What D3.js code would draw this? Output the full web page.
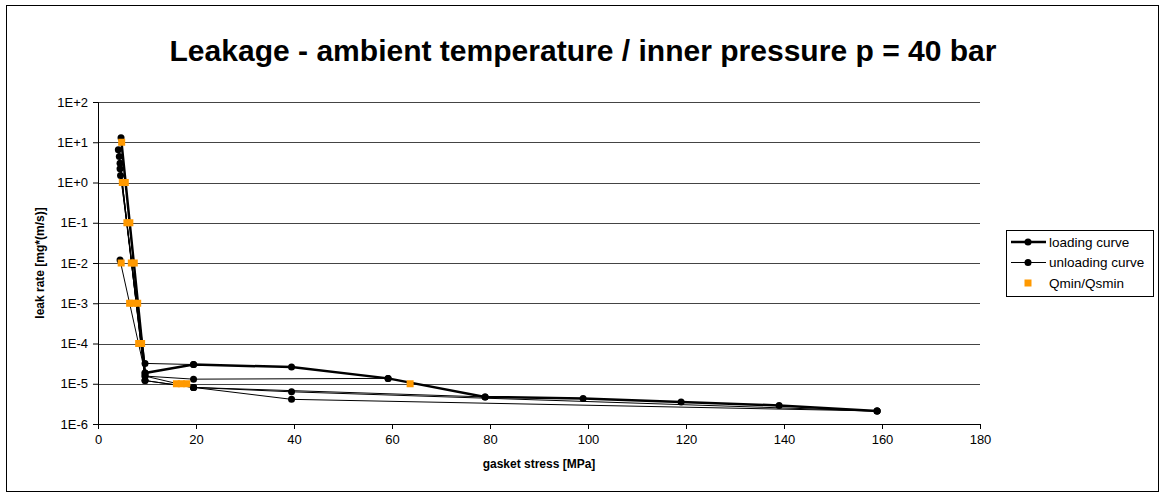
<!DOCTYPE html>
<html>
<head>
<meta charset="utf-8">
<script src="https://cdn.jsdelivr.net/npm/d3@7"></script>
<style>
  body { margin: 0; background: #fff; }
  text { font-family: Arial, "Liberation Sans", sans-serif; fill: #000; }
</style>
</head>
<body>
<div id="chart"></div>
<script>
// chart size = browser window
var svgWidth = 1166;
var svgHeight = 497;

// plot area edges
var margin = { top: 102, right: 186, bottom: 73, left: 98 };
var width = svgWidth - margin.left - margin.right;
var height = svgHeight - margin.top - margin.bottom;

// gasket stress [MPa] / leak rate pairs
var loadingCurve = [
  [4.7, 12.9], [9.6, 1.85e-5], [19.5, 3.0e-5], [39.5, 2.6e-5], [59.2, 1.36e-5],
  [79, 4.7e-6], [99, 4.3e-6], [119, 3.5e-6], [139, 2.9e-6], [159, 2.1e-6]
];

var unload10 = [[9.6, 1.85e-5], [4.5, 0.0118]];
var unload20 = [[19.5, 3.0e-5], [9.6, 3.2e-5], [4.6, 1.5]];
var unload60 = [[59.2, 1.36e-5], [19.5, 1.3e-5], [9.6, 1.55e-5], [4.5, 2.2]];
var unload160a = [[159, 2.1e-6], [39.5, 6.3e-6], [19.5, 8.1e-6], [9.6, 1.2e-5], [4.5, 3.0]];
var unload160b = [[159, 2.1e-6], [39.5, 4.1e-6], [19.5, 8.1e-6], [9.6, 1.2e-5], [4.35, 4.4]];
var unload80 = [[79, 4.7e-6], [19.5, 8.1e-6], [9.6, 1.55e-5], [4.15, 6.5]];

var unloadingCurves = [unload10, unload20, unload60, unload160a, unload160b, unload80];

var qminPoints = [
  [4.83, 10], [4.96, 1], [5.57, 1], [5.9, 0.1], [6.5, 0.1],
  [4.73, 0.01], [6.8, 0.01], [7.4, 0.01],
  [6.45, 1e-3], [7.27, 1e-3], [8.1, 1e-3],
  [8.3, 1e-4], [8.9, 1e-4],
  [16, 1e-5], [17, 1e-5], [18.1, 1e-5], [63.7, 1e-5]
];

var xTicks = [0, 20, 40, 60, 80, 100, 120, 140, 160, 180];
var yTicks = [1e-6, 1e-5, 1e-4, 1e-3, 1e-2, 1e-1, 1e0, 1e1, 1e2];

var legendLabels = ["loading curve", "unloading curve", "Qmin/Qsmin"];

var svg = d3.select("#chart")
  .append("svg")
  .attr("width", svgWidth)
  .attr("height", svgHeight);

// outer frame
svg.append("rect")
  .attr("x", 6.5).attr("y", 5.5)
  .attr("width", 1152).attr("height", 486)
  .attr("fill", "#fff")
  .attr("stroke", "#000");

var chartGroup = svg.append("g")
  .attr("transform", `translate(${margin.left}, ${margin.top})`);

var xScale = d3.scaleLinear().domain([0, 180]).range([0, width]);
var yScale = d3.scaleLog().domain([1e-6, 100]).range([height, 0]);

function expLabel(v) {
  var e = Math.round(Math.log10(v));
  return "1E" + (e >= 0 ? "+" : "-") + Math.abs(e);
}

// horizontal grid lines
chartGroup.selectAll(".grid")
  .data(yTicks)
  .enter()
  .append("line")
  .attr("x1", 0)
  .attr("x2", width)
  .attr("y1", d => Math.round(yScale(d)) + 0.5)
  .attr("y2", d => Math.round(yScale(d)) + 0.5)
  .attr("stroke", "#444")
  .attr("stroke-width", 1);

// axes
var leftAxis = d3.axisLeft(yScale)
  .tickValues(yTicks)
  .tickFormat(expLabel)
  .tickSize(5)
  .tickPadding(5);

var bottomAxis = d3.axisBottom(xScale)
  .tickValues(xTicks)
  .tickSize(5)
  .tickPadding(6);

var yAxis = chartGroup.append("g").call(leftAxis);
var xAxis = chartGroup.append("g")
  .attr("transform", `translate(0, ${height})`)
  .call(bottomAxis);

[yAxis, xAxis].forEach(function (ax) {
  ax.select(".domain").attr("stroke", "#000");
  ax.selectAll(".tick line").attr("stroke", "#000");
  ax.selectAll(".tick text")
    .attr("font-size", "13px")
    .attr("font-family", "Arial, 'Liberation Sans', sans-serif")
    .attr("fill", "#000");
});

var line = d3.line()
  .x(d => xScale(d[0]))
  .y(d => yScale(d[1]));

// unloading curves (thin)
unloadingCurves.forEach(function (curve) {
  chartGroup.append("path")
    .datum(curve)
    .attr("d", line)
    .attr("fill", "none")
    .attr("stroke", "#000")
    .attr("stroke-width", 1);

  chartGroup.selectAll(null)
    .data(curve)
    .enter()
    .append("circle")
    .attr("cx", d => xScale(d[0]))
    .attr("cy", d => yScale(d[1]))
    .attr("r", 3.5)
    .attr("fill", "#000");
});

// loading curve (thick)
chartGroup.append("path")
  .datum(loadingCurve)
  .attr("d", line)
  .attr("fill", "none")
  .attr("stroke", "#000")
  .attr("stroke-width", 2.5);

chartGroup.selectAll(null)
  .data(loadingCurve)
  .enter()
  .append("circle")
  .attr("cx", d => xScale(d[0]))
  .attr("cy", d => yScale(d[1]))
  .attr("r", 3.5)
  .attr("fill", "#000");

// Qmin / Qsmin squares
chartGroup.selectAll(null)
  .data(qminPoints)
  .enter()
  .append("rect")
  .attr("x", d => xScale(d[0]) - 3.5)
  .attr("y", d => yScale(d[1]) - 3.5)
  .attr("width", 7)
  .attr("height", 7)
  .attr("fill", "#FF9900");

// title
svg.append("text")
  .attr("x", 583)
  .attr("y", 61)
  .attr("text-anchor", "middle")
  .attr("font-size", "29px")
  .attr("font-weight", "bold")
  .attr("textLength", 827)
  .attr("lengthAdjust", "spacingAndGlyphs")
  .text("Leakage - ambient temperature / inner pressure p = 40 bar");

// axis titles
svg.append("text")
  .attr("transform", "translate(44, 263) rotate(-90)")
  .attr("text-anchor", "middle")
  .attr("font-size", "12px")
  .attr("font-weight", "bold")
  .text("leak rate [mg*(m/s)]");

svg.append("text")
  .attr("x", margin.left + xScale(90))
  .attr("y", 468)
  .attr("text-anchor", "middle")
  .attr("font-size", "12px")
  .attr("font-weight", "bold")
  .text("gasket stress [MPa]");

// legend
var legend = svg.append("g").attr("transform", "translate(1006, 230)");
legend.append("rect")
  .attr("x", 0.5).attr("y", 0.5)
  .attr("width", 147).attr("height", 66)
  .attr("fill", "#fff")
  .attr("stroke", "#000");

var items = legend.selectAll(".item")
  .data(legendLabels)
  .enter()
  .append("g")
  .attr("transform", (d, i) => `translate(0, ${12 + i * 20.5})`);

items.each(function (d, i) {
  var g = d3.select(this);
  if (i < 2) {
    g.append("line")
      .attr("x1", 5).attr("x2", 40)
      .attr("y1", 0).attr("y2", 0)
      .attr("stroke", "#000")
      .attr("stroke-width", i === 0 ? 2.5 : 1);
    g.append("circle")
      .attr("cx", 22).attr("cy", 0).attr("r", 3.5)
      .attr("fill", "#000");
  } else {
    g.append("rect")
      .attr("x", 18.5).attr("y", -3.5)
      .attr("width", 7).attr("height", 7)
      .attr("fill", "#FF9900");
  }
  g.append("text")
    .attr("x", 43)
    .attr("y", 4.5)
    .attr("font-size", "13.5px")
    .text(d);
});
</script>
</body>
</html>
